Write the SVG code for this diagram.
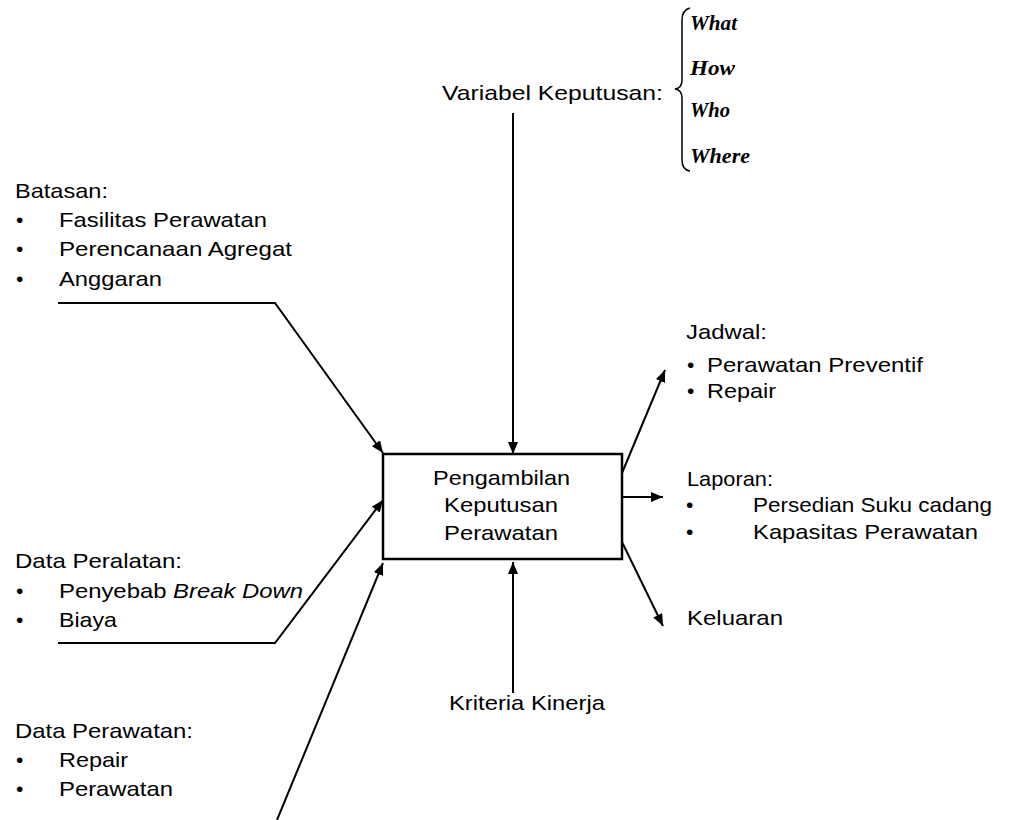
<svg xmlns="http://www.w3.org/2000/svg" width="1017" height="820" viewBox="0 0 1017 820">
<defs>
<marker id="ah" markerUnits="userSpaceOnUse" markerWidth="13" markerHeight="11" refX="12" refY="5" orient="auto">
<path d="M0,0 L12,5 L0,10 z" fill="#000"/>
</marker>
<style>
.t{font-family:"Liberation Sans",Arial,sans-serif;font-size:21px;fill:#000}
.s{font-family:"Liberation Serif","Times New Roman",serif;font-size:21px;font-style:italic;font-weight:bold;fill:#000}
.c{fill:none;stroke:#000;stroke-width:2;marker-end:url(#ah)}
</style>
</defs>
<rect width="1017" height="820" fill="#fff"/>
<g id="connectors">
<line class="c" x1="513" y1="113" x2="513" y2="454"/>
<polyline class="c" points="58,303 275,303 383,453"/>
<polyline class="c" points="58,643 275,643 383,500"/>
<line class="c" x1="277" y1="820" x2="383" y2="563"/>
<line class="c" x1="513" y1="693" x2="513" y2="562"/>
<line class="c" x1="622" y1="473" x2="665" y2="370"/>
<line class="c" x1="622" y1="497" x2="663" y2="497"/>
<line class="c" x1="622" y1="542" x2="663" y2="626"/>
</g>
<g id="process">
<rect x="383" y="454" width="239" height="105" fill="#fff" stroke="#000" stroke-width="2.5"/>
<text class="t" x="433" y="485" textLength="137" lengthAdjust="spacingAndGlyphs">Pengambilan</text>
<text class="t" x="444" y="512" textLength="114" lengthAdjust="spacingAndGlyphs">Keputusan</text>
<text class="t" x="444" y="540" textLength="114" lengthAdjust="spacingAndGlyphs">Perawatan</text>
</g>
<g id="variabel">
<text class="t" x="442" y="100" textLength="221" lengthAdjust="spacingAndGlyphs">Variabel Keputusan:</text>
<path d="M690,8 Q682,10 682,20 L682,80 Q682,88 675,89 Q682,90 682,98 L682,160 Q682,170 690,171" fill="none" stroke="#000" stroke-width="1.5"/>
<text class="s" x="690" y="30" textLength="47" lengthAdjust="spacingAndGlyphs">What</text>
<text class="s" x="690" y="75" textLength="45" lengthAdjust="spacingAndGlyphs">How</text>
<text class="s" x="690" y="117" textLength="40" lengthAdjust="spacingAndGlyphs">Who</text>
<text class="s" x="690" y="163" textLength="60" lengthAdjust="spacingAndGlyphs">Where</text>
</g>
<g id="batasan">
<text class="t" x="15" y="198" textLength="93" lengthAdjust="spacingAndGlyphs">Batasan:</text>
<text class="t" x="16" y="227">•</text>
<text class="t" x="59" y="227" textLength="208" lengthAdjust="spacingAndGlyphs">Fasilitas Perawatan</text>
<text class="t" x="16" y="256">•</text>
<text class="t" x="59" y="256" textLength="233" lengthAdjust="spacingAndGlyphs">Perencanaan Agregat</text>
<text class="t" x="16" y="286">•</text>
<text class="t" x="59" y="286" textLength="103" lengthAdjust="spacingAndGlyphs">Anggaran</text>
</g>
<g id="data-peralatan">
<text class="t" x="15" y="568" textLength="167" lengthAdjust="spacingAndGlyphs">Data Peralatan:</text>
<text class="t" x="16" y="598">•</text>
<text class="t" x="59" y="598" textLength="244" lengthAdjust="spacingAndGlyphs">Penyebab <tspan font-style="italic">Break Down</tspan></text>
<text class="t" x="16" y="627">•</text>
<text class="t" x="59" y="627" textLength="58" lengthAdjust="spacingAndGlyphs">Biaya</text>
</g>
<g id="data-perawatan">
<text class="t" x="15" y="738" textLength="178" lengthAdjust="spacingAndGlyphs">Data Perawatan:</text>
<text class="t" x="16" y="767">•</text>
<text class="t" x="59" y="767" textLength="69" lengthAdjust="spacingAndGlyphs">Repair</text>
<text class="t" x="16" y="796">•</text>
<text class="t" x="59" y="796" textLength="114" lengthAdjust="spacingAndGlyphs">Perawatan</text>
</g>
<g id="kriteria">
<text class="t" x="449" y="710" textLength="156" lengthAdjust="spacingAndGlyphs">Kriteria Kinerja</text>
</g>
<g id="jadwal">
<text class="t" x="686" y="339" textLength="81" lengthAdjust="spacingAndGlyphs">Jadwal:</text>
<text class="t" x="687" y="372">•</text>
<text class="t" x="707" y="372" textLength="216" lengthAdjust="spacingAndGlyphs">Perawatan Preventif</text>
<text class="t" x="687" y="398">•</text>
<text class="t" x="707" y="398" textLength="69" lengthAdjust="spacingAndGlyphs">Repair</text>
</g>
<g id="laporan">
<text class="t" x="687" y="486" textLength="86" lengthAdjust="spacingAndGlyphs">Laporan:</text>
<text class="t" x="686" y="512">•</text>
<text class="t" x="753" y="512" textLength="239" lengthAdjust="spacingAndGlyphs">Persedian Suku cadang</text>
<text class="t" x="686" y="539">•</text>
<text class="t" x="753" y="539" textLength="225" lengthAdjust="spacingAndGlyphs">Kapasitas Perawatan</text>
</g>
<g id="keluaran">
<text class="t" x="687" y="625" textLength="96" lengthAdjust="spacingAndGlyphs">Keluaran</text>
</g>
</svg>
